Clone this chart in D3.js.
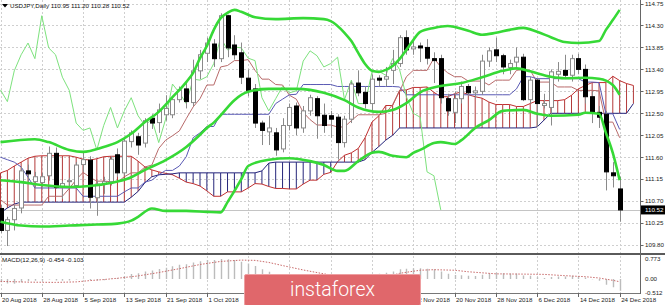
<!DOCTYPE html>
<html>
<head>
<meta charset="utf-8">
<script src="https://cdn.jsdelivr.net/npm/d3@7"></script>
<style>
body { margin: 0; background: #fff; }
svg { display: block; font-family: "Liberation Sans", Arial, sans-serif; }
</style>
</head>
<body>
<div id="chart"></div>
<script>
////////////////////////////////////////
// USDJPY daily - candles, bollinger, ichimoku, macd
////////////////////////////////////////

// date labels on the bottom axis (bar index -> text)
var dateIdx = [0, 6, 12, 18, 24, 30, 36, 42, 48, 54, 60, 66, 72, 78, 84, 90];
var dateLabels = ["20 Aug 2018", "28 Aug 2018", "5 Sep 2018", "13 Sep 2018", "21 Sep 2018",
    "1 Oct 2018", "9 Oct 2018", "17 Oct 2018", "25 Oct 2018", "2 Nov 2018", "12 Nov 2018",
    "20 Nov 2018", "28 Nov 2018", "6 Dec 2018", "14 Dec 2018", "24 Dec 2018"];

var priceTicks = [114.75, 114.30, 113.85, 113.40, 112.95, 112.50, 112.05, 111.60, 111.15, 110.70, 110.25, 109.80];
var macdTicks = [0.773, 0, -0.512];
var macdTickLabels = ["0.773", "0.00", "-0.512"];

var opens = [110.55,110.10,110.32,110.56,111.32,111.10,111.08,111.22,111.68,110.98,
    111.10,111.02,111.45,111.54,110.77,111.05,111.10,111.65,111.28,111.92,
    112.02,111.89,112.40,112.31,112.47,112.47,112.78,113.00,112.72,113.37,
    113.73,113.92,113.62,114.50,113.90,113.74,113.22,113.00,112.30,112.12,
    112.10,111.77,112.25,112.65,112.20,112.55,112.80,112.46,112.45,112.42,
    111.90,112.38,113.12,112.93,112.70,113.22,113.20,113.38,113.52,114.05,
    113.82,113.88,113.85,113.62,113.62,112.80,112.52,112.80,113.05,112.92,
    112.95,113.57,113.80,113.68,113.44,113.55,113.65,112.78,113.18,112.66,
    112.62,113.30,113.38,113.28,113.62,113.40,112.84,112.52,112.48,111.28,
    110.95];
var highs = [110.62,110.38,110.62,111.40,111.45,111.30,111.28,111.82,111.80,111.12,
    111.18,111.50,111.72,111.62,111.12,111.20,111.62,111.78,112.00,112.15,
    112.10,112.40,112.48,112.70,112.87,112.85,113.05,113.12,113.60,113.80,
    114.05,114.02,114.55,114.52,114.10,113.95,113.40,113.10,112.35,112.45,
    112.20,112.40,112.70,112.72,112.65,112.88,112.85,112.70,112.55,112.48,
    112.45,113.15,113.38,113.05,113.30,113.28,113.45,113.80,114.10,114.20,
    114.00,113.95,114.02,113.75,113.70,112.90,112.95,113.15,113.10,113.05,
    113.70,113.85,114.05,113.72,113.60,113.85,113.72,113.25,113.22,112.90,
    113.40,113.55,113.70,113.70,113.72,113.50,112.95,112.65,112.55,111.50,
    111.20];
var lows = [110.05,109.78,110.10,110.45,111.05,110.98,110.98,111.12,110.95,110.75,
    111.00,110.98,111.30,110.55,110.40,110.85,111.02,111.20,111.22,111.80,
    111.65,111.80,112.18,112.10,112.35,112.40,112.72,112.60,112.65,113.20,
    113.55,113.45,113.55,113.65,113.60,113.10,112.85,112.20,111.85,111.85,
    111.63,111.70,112.15,112.05,112.10,112.45,111.98,112.10,112.00,111.55,
    111.80,112.30,112.85,112.60,112.55,113.05,113.05,113.10,113.45,113.70,
    113.70,113.55,113.50,113.12,112.70,112.45,112.30,112.70,112.85,112.80,
    112.88,113.45,113.55,113.30,113.30,113.45,112.75,112.70,112.22,112.60,
    112.25,113.15,113.20,113.15,113.30,112.70,112.30,112.20,110.92,110.98,
    110.28];
var closes = [110.10,110.32,110.55,111.32,111.26,111.20,111.20,111.68,110.98,111.06,
    111.12,111.44,111.55,110.78,111.05,111.10,111.56,111.28,111.93,112.10,
    111.85,112.35,112.30,112.57,112.60,112.78,112.98,112.74,113.37,113.70,
    113.94,113.62,114.50,113.84,113.70,113.24,112.97,112.30,112.15,112.20,
    111.75,112.25,112.62,112.20,112.55,112.82,112.45,112.25,112.38,111.90,
    112.38,113.10,112.92,112.70,113.20,113.18,113.25,113.52,114.05,113.80,
    113.86,113.84,113.63,113.58,112.82,112.55,112.80,113.05,112.92,112.96,
    113.57,113.78,113.68,113.45,113.52,113.65,112.78,113.18,112.70,112.70,
    113.35,113.36,113.28,113.62,113.40,112.84,112.50,112.42,111.30,111.22,
    110.52];

// bollinger bands (20,2)
var bbUpperIdx = [0,5,7,10,12,15,17,19,21,23,25,27,28,29,30,31,32,33,34,35,37,40,44,47,48,50,51,52,53,54,
    55,56,57,58,59,60,61,63,65,68,70,72,74,76,78,80,82,84,87,88,89,90];
var bbUpper = [111.91,111.97,111.91,111.75,111.71,111.81,111.91,112.08,112.32,112.53,
    112.83,113.14,113.33,113.63,113.88,114.21,114.45,114.56,114.62,114.58,
    114.47,114.43,114.45,114.43,114.39,114.15,113.98,113.74,113.51,113.37,
    113.35,113.39,113.47,113.61,113.80,114.00,114.17,114.25,114.29,114.19,
    114.11,114.15,114.21,114.25,114.17,114.06,113.96,113.94,113.98,114.21,
    114.41,114.62];
var bbMidIdx = [0,3,6,10,13,16,19,21,24,27,29,30,31,32,34,36,39,43,45,47,50,52,55,57,59,61,64,67,70,73,
    75,77,80,82,85,87,89,90];
var bbMid = [111.13,111.09,111.03,110.99,111.01,111.07,111.19,111.34,111.54,111.81,
    112.06,112.20,112.31,112.46,112.77,112.94,113.00,113.00,112.98,112.92,
    112.77,112.62,112.53,112.57,112.71,112.93,113.06,113.12,113.24,113.37,
    113.42,113.36,113.25,113.22,113.23,113.21,113.08,112.88];
var bbLowerIdx = [0,3,6,10,14,17,19,20,22,24,27,30,32,33,35,36,39,42,45,47,49,50,52,54,55,57,59,60,61,63,
    64,66,67,69,71,73,76,78,80,84,85,87,88,89,90];
var bbLower = [110.28,110.20,110.18,110.20,110.22,110.24,110.30,110.38,110.55,110.50,
    110.50,110.48,110.47,110.68,111.15,111.42,111.55,111.58,111.52,111.44,
    111.32,111.32,111.52,111.69,111.71,111.63,111.60,111.69,111.75,111.89,
    111.91,111.87,111.95,112.20,112.36,112.55,112.57,112.49,112.45,112.47,
    112.51,112.49,112.10,111.69,111.13];

// ichimoku lines, one value per bar
var tenkan = [110.73,110.62,110.62,110.62,110.62,110.62,110.62,110.80,110.80,110.80,
    110.96,111.14,111.29,111.19,111.11,111.11,111.10,111.09,111.20,111.28,
    111.28,111.40,111.44,111.78,111.95,112.04,112.14,112.39,112.63,112.80,
    113.08,113.08,113.45,113.48,113.58,113.58,113.60,113.38,113.20,113.20,
    113.09,113.08,112.87,112.79,112.52,112.37,112.26,112.26,112.26,112.22,
    112.22,112.35,112.47,112.47,112.47,112.47,112.50,112.68,112.95,113.25,
    113.38,113.38,113.38,113.63,113.45,113.33,113.25,113.25,113.16,113.16,
    113.16,113.08,113.18,113.18,113.18,113.38,113.40,113.38,113.14,113.14,
    113.14,113.04,113.04,113.04,112.97,112.97,112.97,112.96,112.32,112.32,
    112.00];
var kijun = [111.60,111.55,111.50,111.40,111.19,110.97,110.97,110.97,110.97,110.97,
    110.97,110.97,110.80,110.80,110.80,110.80,110.80,110.80,110.89,110.97,
    110.97,111.09,111.13,111.24,111.33,111.33,111.42,111.61,112.00,112.10,
    112.23,112.23,112.48,112.48,112.48,112.48,112.48,112.48,112.48,112.48,
    112.70,112.79,112.88,112.89,113.09,113.09,113.09,113.09,113.09,113.05,
    113.05,113.05,113.05,113.05,113.05,113.05,113.05,113.05,113.04,112.88,
    112.88,112.88,112.88,112.88,112.88,112.88,112.88,112.88,112.88,112.88,
    112.88,112.88,112.88,112.88,112.88,113.00,113.25,113.25,113.21,113.21,
    113.21,113.21,113.21,113.21,113.21,113.14,113.14,113.13,112.49,112.49,
    112.17];
// cloud spans, already shifted, one value per bar (0..92)
var spanA = [111.28,111.33,111.42,111.50,111.58,111.62,111.63,111.63,111.63,111.63,
    111.63,111.60,111.56,111.54,111.57,111.61,111.62,111.62,111.62,111.62,
    111.52,111.40,111.34,111.30,111.27,111.24,111.17,111.09,111.06,111.01,
    110.91,110.80,110.80,110.89,110.89,110.89,110.97,111.06,111.05,111.00,
    110.96,110.96,110.95,110.95,111.05,111.13,111.13,111.25,111.29,111.51,
    111.64,111.69,111.78,112.00,112.32,112.45,112.66,112.66,112.97,112.98,
    113.03,113.03,113.04,112.93,112.84,112.84,112.90,112.94,112.88,112.84,
    112.81,112.73,112.68,112.68,112.68,112.64,112.64,112.70,112.76,112.76,
    112.76,112.76,112.78,112.87,113.00,113.07,113.13,113.13,113.13,113.26,
    113.17,113.11,113.07];
var spanB = [110.46,110.56,110.64,110.68,110.68,110.68,110.68,110.68,110.68,110.68,
    110.68,110.68,110.68,110.68,110.68,110.68,110.68,110.68,110.68,110.78,
    110.90,111.08,111.20,111.24,111.25,111.26,111.28,111.28,111.28,111.28,
    111.28,111.28,111.28,111.28,111.28,111.28,111.28,111.28,111.32,111.48,
    111.50,111.50,111.50,111.50,111.50,111.50,111.50,111.50,111.50,111.50,
    111.50,111.50,111.50,111.55,111.70,111.82,111.95,112.05,112.20,112.20,
    112.20,112.20,112.20,112.20,112.20,112.20,112.20,112.20,112.20,112.20,
    112.20,112.20,112.20,112.20,112.20,112.20,112.20,112.20,112.22,112.36,
    112.50,112.50,112.50,112.50,112.50,112.50,112.50,112.50,112.50,112.50,
    112.50,112.50,112.70];
var chikouShift = 26;

// macd (12,26,9)
var macdMain = [-0.12,-0.17,-0.18,-0.12,-0.08,-0.07,-0.06,-0.02,-0.06,-0.07,
    -0.06,-0.02,0.02,-0.04,-0.06,-0.05,0.02,0.04,0.12,0.19,
    0.22,0.29,0.33,0.39,0.44,0.49,0.55,0.57,0.64,0.69,
    0.73,0.73,0.77,0.76,0.73,0.67,0.60,0.50,0.38,0.28,
    0.17,0.14,0.14,0.10,0.10,0.12,0.08,0.03,0.00,-0.08,
    -0.06,0.04,0.08,0.08,0.16,0.20,0.24,0.29,0.38,0.40,
    0.42,0.42,0.40,0.38,0.29,0.20,0.16,0.15,0.13,0.12,
    0.17,0.22,0.24,0.22,0.21,0.21,0.14,0.13,0.07,0.04,
    0.08,0.10,0.10,0.13,0.12,0.06,-0.01,-0.07,-0.22,-0.32,
    -0.454];
var signalIdx = [0,4,8,11,13,15,17,20,23,26,29,32,35,37,39,41,44,47,50,53,56,58,61,63,66,68,72,76,79,82,85,87,89,90];
var signalVal = [-0.09,-0.12,-0.13,-0.11,-0.06,-0.02,0.03,0.12,0.25,0.40,
    0.56,0.68,0.73,0.72,0.64,0.52,0.35,0.20,0.07,0.02,
    0.08,0.22,0.34,0.36,0.34,0.28,0.20,0.19,0.18,0.13,
    0.09,0.04,-0.05,-0.103];

var header = "USDJPY,Daily  110.95 111.20 110.28 110.52";
var macdHeader = "MACD(12,26,9) -0.454 -0.103";
var lastPrice = 110.52;

////////////////////////////////////////

var W = 665, H = 305;
var plotRight = 640.5;
var mainBottom = 253;
var macdTop = 256, macdBottom = 293;
var logo = { x: 244.5, y: 274.5, w: 176, h: 31 };

var svg = d3.select("#chart").append("svg")
    .attr("width", W)
    .attr("height", H);

var x = d3.scaleLinear().domain([0, 93]).range([0.5, 640.3]);
var y = d3.scaleLinear().domain([109.658, 114.822]).range([252, 0]);
var ym = d3.scaleLinear().domain([-0.512, 0.773]).range([292.3, 259]);

var defs = svg.append("defs");
defs.append("clipPath").attr("id", "clipMain")
    .append("rect").attr("x", 0).attr("y", 0).attr("width", plotRight).attr("height", mainBottom);
defs.append("clipPath").attr("id", "clipMacd")
    .append("rect").attr("x", 0).attr("y", macdTop).attr("width", plotRight).attr("height", macdBottom - macdTop);

var gridColor = "#cfcfcf";

// grid main
var main = svg.append("g").attr("clip-path", "url(#clipMain)");
main.selectAll(".hgrid").data(priceTicks).enter().append("line")
    .attr("x1", 0).attr("x2", plotRight)
    .attr("y1", function (d) { return Math.round(y(d)) + 0.5; })
    .attr("y2", function (d) { return Math.round(y(d)) + 0.5; })
    .style("stroke", gridColor).style("stroke-dasharray", "2,2");
main.selectAll(".vgrid").data(dateIdx).enter().append("line")
    .attr("x1", function (d) { return Math.round(x(d)) + 0.5; })
    .attr("x2", function (d) { return Math.round(x(d)) + 0.5; })
    .attr("y1", 0).attr("y2", mainBottom)
    .style("stroke", gridColor).style("stroke-dasharray", "2,2");

// bid line
main.append("line")
    .attr("x1", 0).attr("x2", plotRight)
    .attr("y1", Math.round(y(lastPrice)) + 0.5).attr("y2", Math.round(y(lastPrice)) + 0.5)
    .style("stroke", "#c4c4c4");

// ichimoku cloud hatching
var cloudIdx = d3.range(spanA.length);
main.selectAll(".hatch").data(cloudIdx).enter().append("line")
    .attr("x1", function (d) { return x(d); })
    .attr("x2", function (d) { return x(d); })
    .attr("y1", function (d) { return y(spanA[d]); })
    .attr("y2", function (d) { return y(spanB[d]); })
    .style("stroke", function (d) { return spanA[d] >= spanB[d] ? "#b33a3a" : "#26267a"; })
    .style("stroke-width", 1);

var lineIdx = d3.line()
    .x(function (d) { return x(d[0]); })
    .y(function (d) { return y(d[1]); });

function pairs(idx, vals) {
    return idx.map(function (d, k) { return [d, vals[k]]; });
}
function seq(vals) {
    return vals.map(function (v, k) { return [k, v]; });
}

main.append("path").datum(seq(spanA)).attr("d", lineIdx)
    .style("fill", "none").style("stroke", "#c03030").style("stroke-width", 1);
main.append("path").datum(seq(spanB)).attr("d", lineIdx)
    .style("fill", "none").style("stroke", "#22227a").style("stroke-width", 1);

// tenkan / kijun / chikou (close drawn 26 bars back)
main.append("path").datum(seq(tenkan)).attr("d", lineIdx)
    .style("fill", "none").style("stroke", "#b86a6a").style("stroke-width", 1);
main.append("path").datum(seq(kijun)).attr("d", lineIdx)
    .style("fill", "none").style("stroke", "#5a5ab4").style("stroke-width", 1);
main.append("path").datum(seq(closes.slice(chikouShift))).attr("d", lineIdx)
    .style("fill", "none").style("stroke", "#7de27d").style("stroke-width", 1);

// candles
var bars = main.selectAll(".bar").data(d3.range(closes.length)).enter().append("g");
bars.append("line")
    .attr("x1", function (d) { return Math.round(x(d)) + 0.5; })
    .attr("x2", function (d) { return Math.round(x(d)) + 0.5; })
    .attr("y1", function (d) { return y(highs[d]); })
    .attr("y2", function (d) { return y(lows[d]); })
    .style("stroke", "#8a8a8a");
bars.append("rect")
    .attr("x", function (d) { return Math.round(x(d)) - 1.5; })
    .attr("width", 4)
    .attr("y", function (d) { return y(Math.max(opens[d], closes[d])); })
    .attr("height", function (d) { return Math.max(1, Math.abs(y(opens[d]) - y(closes[d]))); })
    .style("fill", function (d) { return closes[d] >= opens[d] ? "#fff" : "#000"; })
    .style("stroke", function (d) { return closes[d] >= opens[d] ? "#8a8a8a" : "#000"; })
    .style("stroke-width", 1);

// bollinger bands
var curveLine = d3.line()
    .x(function (d) { return x(d[0]); })
    .y(function (d) { return y(d[1]); })
    .curve(d3.curveMonotoneX);
[pairs(bbUpperIdx, bbUpper), pairs(bbMidIdx, bbMid), pairs(bbLowerIdx, bbLower)].forEach(function (band) {
    main.append("path").datum(band).attr("d", curveLine)
        .style("fill", "none").style("stroke", "#36d936").style("stroke-width", 2.6)
        .style("stroke-linejoin", "round");
});

////////////////////////////////////////
// macd window

var sub = svg.append("g").attr("clip-path", "url(#clipMacd)");
sub.selectAll(".vgrid").data(dateIdx).enter().append("line")
    .attr("x1", function (d) { return Math.round(x(d)) + 0.5; })
    .attr("x2", function (d) { return Math.round(x(d)) + 0.5; })
    .attr("y1", macdTop).attr("y2", macdBottom)
    .style("stroke", gridColor).style("stroke-dasharray", "2,2");

sub.selectAll(".hist").data(d3.range(macdMain.length)).enter().append("line")
    .attr("x1", function (d) { return Math.round(x(d)) + 0.5; })
    .attr("x2", function (d) { return Math.round(x(d)) + 0.5; })
    .attr("y1", ym(0))
    .attr("y2", function (d) { return ym(macdMain[d]); })
    .style("stroke", "#bcbcbc").style("stroke-width", 1.4);

var sigLine = d3.line()
    .x(function (d) { return x(d[0]); })
    .y(function (d) { return ym(d[1]); });
sub.append("path").datum(pairs(signalIdx, signalVal)).attr("d", sigLine)
    .style("fill", "none").style("stroke", "#c86a6a").style("stroke-width", 1)
    .style("stroke-dasharray", "1.5,1.5");

////////////////////////////////////////
// frames, axes, texts

svg.append("rect").attr("x", 0).attr("y", mainBottom).attr("width", W).attr("height", 2).style("fill", "#5a5a5a");
svg.append("line").attr("x1", 0).attr("x2", plotRight).attr("y1", macdBottom + 0.5).attr("y2", macdBottom + 0.5)
    .style("stroke", "#777");
svg.append("line").attr("x1", plotRight).attr("x2", plotRight).attr("y1", 0).attr("y2", macdBottom + 1)
    .style("stroke", "#666");

var fontSize = 6.2;

svg.selectAll(".ptick").data(priceTicks).enter().append("line")
    .attr("x1", plotRight).attr("x2", plotRight + 3)
    .attr("y1", function (d) { return Math.round(y(d)) + 0.5; })
    .attr("y2", function (d) { return Math.round(y(d)) + 0.5; })
    .style("stroke", "#666");
svg.selectAll(".plabel").data(priceTicks).enter().append("text")
    .attr("x", 645).attr("y", function (d) { return y(d) + 2.3; })
    .style("font-size", fontSize + "px").style("fill", "#222")
    .text(function (d) { return d.toFixed(2); });

// last price box
svg.append("rect").attr("x", 641).attr("y", y(lastPrice) - 4.5).attr("width", 24).attr("height", 9)
    .style("fill", "#000");
svg.append("text").attr("x", 645).attr("y", y(lastPrice) + 2.3)
    .style("font-size", fontSize + "px").style("fill", "#fff")
    .text(lastPrice.toFixed(2));

svg.selectAll(".mtick").data(macdTicks).enter().append("text")
    .attr("x", 645).attr("y", function (d) { return ym(d) + 2.3; })
    .style("font-size", fontSize + "px").style("fill", "#222")
    .text(function (d, k) { return macdTickLabels[k]; });

svg.selectAll(".dtick").data(dateIdx).enter().append("line")
    .attr("x1", function (d) { return Math.round(x(d)) + 0.5; })
    .attr("x2", function (d) { return Math.round(x(d)) + 0.5; })
    .attr("y1", macdBottom).attr("y2", macdBottom + 4)
    .style("stroke", "#666");

// labels that sit fully under the logo are not drawn (hidden in the original)
var shownDates = dateIdx.map(function (d, k) { return { i: d, label: dateLabels[k] }; })
    .filter(function (d) { return x(d.i) + 30 < logo.x || x(d.i) > logo.x + logo.w - 20; });
svg.selectAll(".dlabel").data(shownDates).enter().append("text")
    .attr("x", function (d) { return x(d.i) + 1.5; })
    .attr("y", 301.5)
    .style("font-size", fontSize + "px").style("fill", "#222")
    .text(function (d) { return d.label; });

// headers
svg.append("path").attr("d", "M2,4 L8,4 L5,7.5 Z").style("fill", "#000");
svg.append("text").attr("x", 10).attr("y", 8.3)
    .style("font-size", fontSize + "px").style("fill", "#111")
    .text(header);
svg.append("text").attr("x", 2).attr("y", 261.5)
    .style("font-size", fontSize + "px").style("fill", "#111")
    .text(macdHeader);

// logo
svg.append("rect").attr("x", logo.x).attr("y", logo.y).attr("width", logo.w).attr("height", logo.h)
    .attr("rx", 1.5)
    .style("fill", "#e0676b").style("stroke", "#ee9fa1");
svg.append("text").attr("x", logo.x + logo.w / 2).attr("y", 295.5)
    .attr("text-anchor", "middle")
    .attr("textLength", 85).attr("lengthAdjust", "spacingAndGlyphs")
    .style("font-family", "Roboto, 'Open Sans', sans-serif")
    .style("font-weight", 300)
    .style("font-size", "20px").style("fill", "#fff")
    .text("instaforex");
</script>
</body>
</html>
